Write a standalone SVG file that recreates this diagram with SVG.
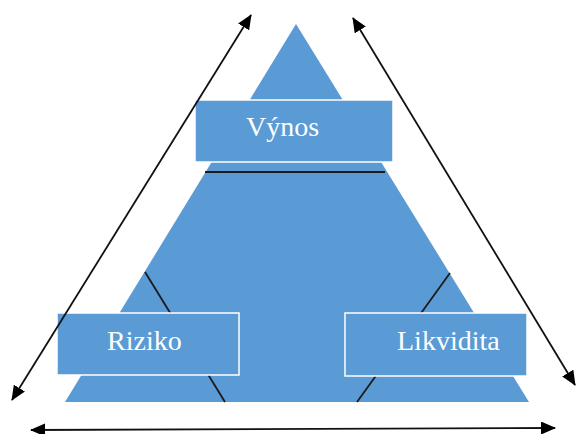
<svg xmlns="http://www.w3.org/2000/svg" width="577" height="434" viewBox="0 0 577 434">
<style>
.box{fill:#5b9bd5;stroke:#ffffff;stroke-width:1.5}
.lbl{font-family:"Liberation Serif","Times New Roman",serif;font-size:28px;fill:#ffffff}
.conn{stroke:#111111;stroke-width:1.8;fill:none}
.inner{stroke:#1a1a1a;stroke-width:1.8;fill:none}
</style>
<defs>
<marker id="ah" markerUnits="userSpaceOnUse" markerWidth="15" markerHeight="13" refX="14" refY="6.5" orient="auto-start-reverse" viewBox="0 0 15 13">
<path d="M0,0 L15,6.5 L0,13 Z" fill="#000"/>
</marker>
</defs>
<g id="pyramid">
<polygon points="296,24 65,402 529,402" fill="#5b9bd5"/>
</g>
<g id="inner-lines">
<line class="inner" x1="205" y1="172" x2="385" y2="172"/>
<line class="inner" x1="145" y1="272" x2="225" y2="402"/>
<line class="inner" x1="450" y1="273" x2="357" y2="402"/>
</g>
<g id="vynos">
<rect class="box" x="195" y="100" width="198" height="62"/>
<text class="lbl" x="246" y="136">Výnos</text>
</g>
<g id="riziko">
<rect class="box" x="57" y="313" width="182" height="62"/>
<text class="lbl" x="107" y="350">Riziko</text>
</g>
<g id="likvidita">
<rect class="box" x="345" y="313" width="182" height="63"/>
<text class="lbl" x="397" y="350">Likvidita</text>
</g>
<g id="connectors">
<line class="conn" x1="12" y1="400" x2="251" y2="15" marker-start="url(#ah)" marker-end="url(#ah)"/>
<line class="conn" x1="353" y1="18" x2="575" y2="385" marker-start="url(#ah)" marker-end="url(#ah)"/>
<line class="conn" x1="31" y1="430" x2="555" y2="428" marker-start="url(#ah)" marker-end="url(#ah)"/>
</g>
</svg>
